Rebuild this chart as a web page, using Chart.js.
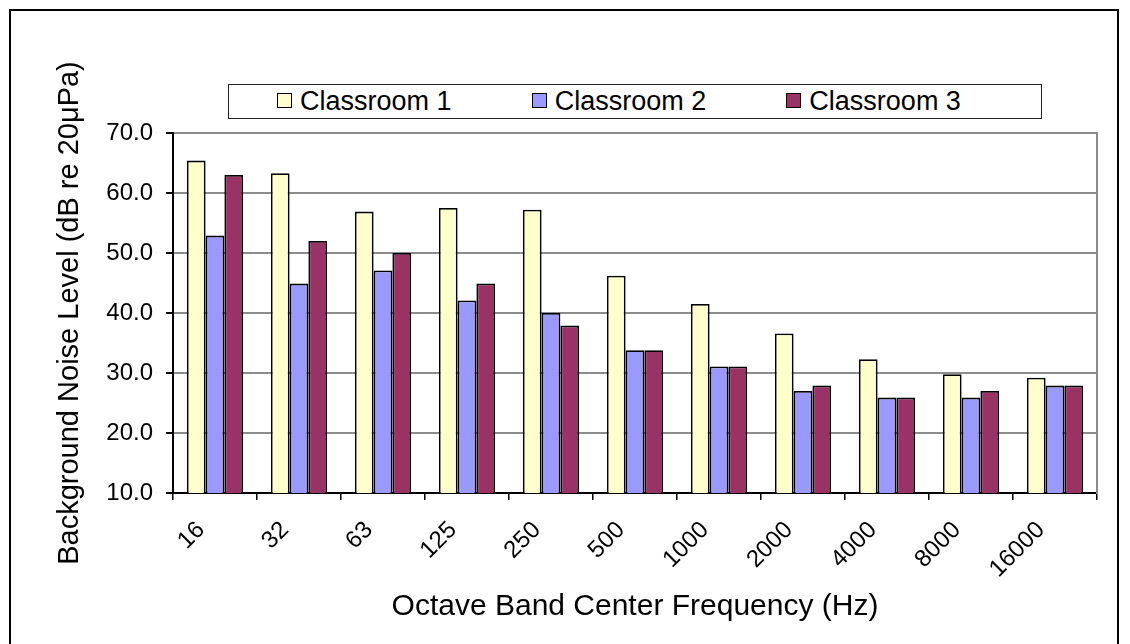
<!DOCTYPE html>
<html>
<head>
<meta charset="utf-8">
<script src="https://cdn.jsdelivr.net/npm/chart.js@4.4.1/dist/chart.umd.min.js"></script>
<style>
    html, body { margin: 0; padding: 0; background: #fff; overflow: hidden; }
    #wrap { position: relative; width: 1130px; height: 644px; }
    #frame {
        position: absolute; left: 9px; top: 9px; width: 1110px; height: 700px;
        border: 2px solid #000; box-sizing: border-box;
    }
    #chart { position: absolute; left: 0; top: 0; }
    #legend {
        position: absolute; left: 228px; top: 84px; width: 814px; height: 35px;
        border: 1.5px solid #222; box-sizing: border-box; background: #fff;
        display: flex; align-items: center; padding-left: 48px;
        font-family: "Liberation Sans", Arial, sans-serif; font-size: 27px; color: #000;
    }
    .item { display: flex; align-items: center; width: 271px; }
    .swatch { width: 13px; height: 13px; border: 1.5px solid #000; margin-right: 8px; margin-top: -2px; }
</style>
</head>
<body>
<div id="wrap">
    <div id="frame"></div>
    <canvas id="chart" width="1130" height="644"></canvas>
    <div id="legend"></div>
</div>
<script>
const categories = ["16", "32", "63", "125", "250", "500", "1000", "2000", "4000", "8000", "16000"];
const classroom1 = [65.4, 63.3, 56.9, 57.5, 57.2, 46.2, 41.5, 36.6, 32.3, 29.8, 29.2];
const classroom2 = [52.9, 44.9, 47.1, 42.1, 40.0, 33.8, 31.1, 27.0, 25.9, 25.9, 27.9];
const classroom3 = [63.0, 52.0, 50.0, 44.9, 37.9, 33.8, 31.1, 27.9, 25.9, 27.0, 27.9];
const yTicks = [10, 20, 30, 40, 50, 60, 70];

const FONT = "'Liberation Sans', Arial, sans-serif";

const datasets = [
    { label: "Classroom 1", data: classroom1, backgroundColor: "#FFFFCC" },
    { label: "Classroom 2", data: classroom2, backgroundColor: "#9999FF" },
    { label: "Classroom 3", data: classroom3, backgroundColor: "#993366" },
].map(d => Object.assign(d, {
    borderColor: "#000",
    borderWidth: 1.8,
    barPercentage: 1,
    categoryPercentage: 0.67,
}));

const ctx = document.getElementById("chart").getContext("2d");
const chart = new Chart(ctx, {
    type: "bar",
    data: { labels: categories, datasets: datasets },
    options: {
        responsive: false,
        animation: false,
        devicePixelRatio: 1,
        layout: { padding: { left: 49, right: 33, top: 133, bottom: 15 } },
        plugins: {
            legend: { display: false },
            tooltip: { enabled: false },
        },
        scales: {
            x: {
                afterFit: scale => { scale.height = 136; },
                grid: {
                    offset: true,
                    drawOnChartArea: false,
                    color: "#000",
                    tickColor: "#000",
                    tickLength: 7,
                    lineWidth: 1.5,
                },
                border: { color: "#000", width: 2 },
                ticks: {
                    color: "#000",
                    minRotation: 45,
                    maxRotation: 45,
                    padding: 16,
                    labelOffset: -14,
                    font: { family: FONT, size: 24 },
                },
                title: {
                    display: true,
                    text: "Octave Band Center Frequency (Hz)",
                    color: "#000",
                    font: { family: FONT, size: 30 },
                },
            },
            y: {
                min: yTicks[0],
                max: yTicks[yTicks.length - 1],
                afterFit: scale => { scale.width = 124; },
                afterBuildTicks: scale => { scale.ticks = yTicks.map(v => ({ value: v })); },
                grid: {
                    color: "#8c8c8c",
                    tickColor: "#000",
                    tickLength: 7,
                    lineWidth: 2,
                },
                border: { color: "#000", width: 2 },
                ticks: {
                    color: "#000",
                    padding: 13,
                    font: { family: FONT, size: 24 },
                    callback: v => v.toFixed(1),
                },
                title: {
                    display: true,
                    text: "Background Noise Level (dB re 20μPa)",
                    color: "#000",
                    font: { family: FONT, size: 29 },
                },
            },
            yRight: {
                position: "right",
                min: yTicks[0],
                max: yTicks[yTicks.length - 1],
                afterFit: scale => { scale.width = 0; },
                grid: { drawOnChartArea: false, drawTicks: false },
                border: { color: "#8c8c8c", width: 2 },
                ticks: { display: false },
            },
        },
    },
});

// legend box built from the dataset list
const legend = document.getElementById("legend");
chart.data.datasets.forEach(ds => {
    const item = document.createElement("div");
    item.className = "item";
    const sw = document.createElement("span");
    sw.className = "swatch";
    sw.style.background = ds.backgroundColor;
    const label = document.createElement("span");
    label.textContent = ds.label;
    item.appendChild(sw);
    item.appendChild(label);
    legend.appendChild(item);
});
</script>
</body>
</html>
